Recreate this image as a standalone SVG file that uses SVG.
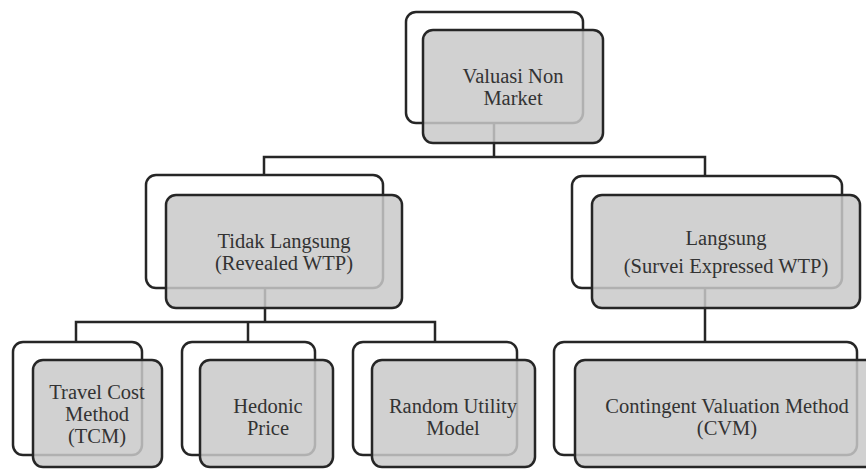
<svg xmlns="http://www.w3.org/2000/svg" width="866" height="470" viewBox="0 0 866 470">
<style>
.back{fill:#ffffff;stroke:#262626;stroke-width:2.5}
.front{fill:#c9c9c9;fill-opacity:0.85;stroke:#262626;stroke-width:2.5}
.conn{fill:none;stroke:#262626;stroke-width:2.5}
.t{font-size:20.5px;fill:#333333;text-anchor:middle}
</style>
<rect width="866" height="470" fill="#ffffff"/>
<g id="connectors">
<path class="conn" d="M494 123 V157 M264 175 V157 H705 V176"/>
<path class="conn" d="M265 288 V322 M76 342 V322 H435 V342 M248 322 V342"/>
<path class="conn" d="M705 288 V342"/>
</g>
<g font-family="'Liberation Serif', 'Times New Roman', 'DejaVu Serif', serif">
<g id="n-valuasi">
<rect class="back" x="406" y="12" width="177" height="111" rx="10"/>
<rect class="front" x="423" y="30" width="180" height="113" rx="10"/>
<text class="t" x="513" y="83">Valuasi Non</text>
<text class="t" x="513" y="105">Market</text>
</g>
<g id="n-tidak">
<rect class="back" x="146" y="175" width="237" height="113" rx="10"/>
<rect class="front" x="166" y="195" width="236" height="113" rx="10"/>
<text class="t" x="284" y="248">Tidak Langsung</text>
<text class="t" x="284" y="270">(Revealed WTP)</text>
</g>
<g id="n-langsung">
<rect class="back" x="572" y="176" width="270" height="112" rx="10"/>
<rect class="front" x="592" y="195" width="268" height="113" rx="10"/>
<text class="t" x="726" y="245">Langsung</text>
<text class="t" x="726" y="273">(Survei Expressed WTP)</text>
</g>
<g id="n-tcm">
<rect class="back" x="13" y="342" width="129" height="113" rx="10"/>
<rect class="front" x="33" y="360" width="129" height="107" rx="10"/>
<text class="t" x="97" y="399">Travel Cost</text>
<text class="t" x="97" y="421">Method</text>
<text class="t" x="97" y="443">(TCM)</text>
</g>
<g id="n-hedonic">
<rect class="back" x="182" y="342" width="133" height="113" rx="10"/>
<rect class="front" x="200" y="360" width="133" height="107" rx="10"/>
<text class="t" x="268" y="413">Hedonic</text>
<text class="t" x="268" y="435">Price</text>
</g>
<g id="n-rum">
<rect class="back" x="353" y="342" width="164" height="113" rx="10"/>
<rect class="front" x="372" y="360" width="163" height="107" rx="10"/>
<text class="t" x="453" y="413">Random Utility</text>
<text class="t" x="453" y="435">Model</text>
</g>
<g id="n-cvm">
<rect class="back" x="554" y="342" width="303" height="113" rx="10"/>
<rect class="front" x="575" y="360" width="320" height="107" rx="10"/>
<text class="t" x="727" y="413">Contingent Valuation Method</text>
<text class="t" x="727" y="435">(CVM)</text>
</g>
</g>
</svg>
